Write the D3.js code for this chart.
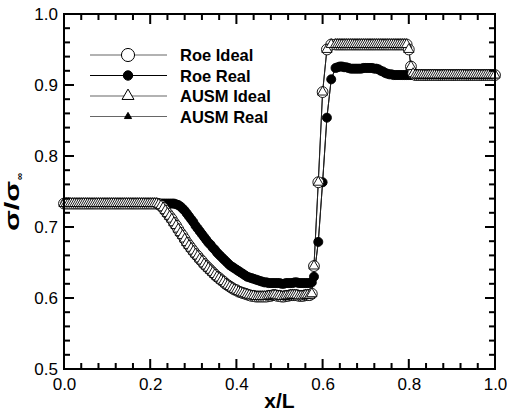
<!DOCTYPE html>
<html>
<head>
<meta charset="utf-8">
<script src="https://cdn.jsdelivr.net/npm/d3@7"></script>
<style>
  body { margin: 0; background: #fff; }
  svg { display: block; font-family: "Liberation Sans", Arial, sans-serif; }
  .axis path, .axis line { stroke: #000; }
  .axis text { font-size: 17px; fill: #000; }
</style>
</head>
<body>
<div id="chart-area"></div>
<script>
// x/L positions of the grid points (coarser through the shock)
const xs = [
  0.000, 0.005, 0.010, 0.015, 0.020, 0.025, 0.030, 0.035, 0.040, 0.045,
  0.050, 0.055, 0.060, 0.065, 0.070, 0.075, 0.080, 0.085, 0.090, 0.095,
  0.100, 0.105, 0.110, 0.115, 0.120, 0.125, 0.130, 0.135, 0.140, 0.145,
  0.150, 0.155, 0.160, 0.165, 0.170, 0.175, 0.180, 0.185, 0.190, 0.195,
  0.200, 0.205, 0.210, 0.215, 0.220, 0.225, 0.230, 0.235, 0.240, 0.245,
  0.250, 0.255, 0.260, 0.265, 0.270, 0.275, 0.280, 0.285, 0.290, 0.295,
  0.300, 0.305, 0.310, 0.315, 0.320, 0.325, 0.330, 0.335, 0.340, 0.345,
  0.350, 0.355, 0.360, 0.365, 0.370, 0.375, 0.380, 0.385, 0.390, 0.395,
  0.400, 0.405, 0.410, 0.415, 0.420, 0.425, 0.430, 0.435, 0.440, 0.445,
  0.450, 0.455, 0.460, 0.465, 0.470, 0.475, 0.480, 0.485, 0.490, 0.495,
  0.500, 0.505, 0.510, 0.515, 0.520, 0.525, 0.530, 0.535, 0.540, 0.545,
  0.550, 0.555, 0.560, 0.565, 0.570, 0.575,
  0.58, 0.59, 0.60, 0.61, 0.62, 0.63,
  0.635, 0.640, 0.645, 0.650, 0.655, 0.660, 0.665, 0.670, 0.675, 0.680,
  0.685, 0.690, 0.695, 0.700, 0.705, 0.710, 0.715, 0.720, 0.725, 0.730,
  0.735, 0.740, 0.745, 0.750, 0.755, 0.760, 0.765, 0.770, 0.775, 0.780,
  0.785, 0.790, 0.795, 0.800, 0.805, 0.810, 0.815, 0.820, 0.825, 0.830,
  0.835, 0.840, 0.845, 0.850, 0.855, 0.860, 0.865, 0.870, 0.875, 0.880,
  0.885, 0.890, 0.895, 0.900, 0.905, 0.910, 0.915, 0.920, 0.925, 0.930,
  0.935, 0.940, 0.945, 0.950, 0.955, 0.960, 0.965, 0.970, 0.975, 0.980,
  0.985, 0.990, 0.995, 1.000
];

const roeIdeal = [
  0.733, 0.733, 0.733, 0.733, 0.733, 0.733, 0.733, 0.733, 0.733, 0.733,
  0.733, 0.733, 0.733, 0.733, 0.733, 0.733, 0.733, 0.733, 0.733, 0.733,
  0.733, 0.733, 0.733, 0.733, 0.733, 0.733, 0.733, 0.733, 0.733, 0.733,
  0.733, 0.733, 0.733, 0.733, 0.733, 0.733, 0.733, 0.733, 0.733, 0.733,
  0.733, 0.733, 0.733, 0.733, 0.732, 0.730, 0.727, 0.723, 0.719, 0.715,
  0.711, 0.706, 0.702, 0.697, 0.692, 0.688, 0.683, 0.678, 0.674, 0.670,
  0.666, 0.662, 0.659, 0.655, 0.652, 0.648, 0.645, 0.642, 0.639, 0.636,
  0.633, 0.630, 0.628, 0.625, 0.623, 0.620, 0.618, 0.616, 0.614, 0.612,
  0.611, 0.609, 0.608, 0.607, 0.606, 0.605, 0.604, 0.603, 0.603, 0.602,
  0.602, 0.602, 0.602, 0.602, 0.602, 0.603, 0.603, 0.604, 0.604, 0.603,
  0.603, 0.602, 0.602, 0.603, 0.603, 0.604, 0.604, 0.604, 0.604, 0.603,
  0.603, 0.603, 0.604, 0.604, 0.604, 0.606,
  0.645, 0.763, 0.890, 0.950, 0.957, 0.957,
  0.957, 0.957, 0.957, 0.957, 0.957, 0.957, 0.957, 0.957, 0.957, 0.957,
  0.957, 0.957, 0.957, 0.957, 0.957, 0.957, 0.957, 0.957, 0.957, 0.957,
  0.957, 0.957, 0.957, 0.957, 0.957, 0.957, 0.957, 0.957, 0.957, 0.957,
  0.957, 0.957, 0.957, 0.950, 0.926, 0.916, 0.914, 0.914, 0.914, 0.914,
  0.914, 0.914, 0.914, 0.914, 0.914, 0.914, 0.914, 0.914, 0.914, 0.914,
  0.914, 0.914, 0.914, 0.914, 0.914, 0.914, 0.914, 0.914, 0.914, 0.914,
  0.914, 0.914, 0.914, 0.914, 0.914, 0.914, 0.914, 0.914, 0.914, 0.914,
  0.914, 0.914, 0.914, 0.914
];

const roeReal = [
  0.733, 0.733, 0.733, 0.733, 0.733, 0.733, 0.733, 0.733, 0.733, 0.733,
  0.733, 0.733, 0.733, 0.733, 0.733, 0.733, 0.733, 0.733, 0.733, 0.733,
  0.733, 0.733, 0.733, 0.733, 0.733, 0.733, 0.733, 0.733, 0.733, 0.733,
  0.733, 0.733, 0.733, 0.733, 0.733, 0.733, 0.733, 0.733, 0.733, 0.733,
  0.733, 0.733, 0.733, 0.733, 0.733, 0.733, 0.733, 0.733, 0.733, 0.733,
  0.733, 0.733, 0.732, 0.731, 0.729, 0.726, 0.723, 0.719, 0.715, 0.711,
  0.707, 0.702, 0.698, 0.694, 0.690, 0.686, 0.682, 0.678, 0.675, 0.671,
  0.668, 0.664, 0.661, 0.658, 0.655, 0.652, 0.649, 0.646, 0.644, 0.642,
  0.640, 0.638, 0.636, 0.634, 0.632, 0.630, 0.629, 0.628, 0.627, 0.626,
  0.625, 0.624, 0.623, 0.622, 0.622, 0.621, 0.621, 0.621, 0.621, 0.621,
  0.621, 0.620, 0.620, 0.621, 0.621, 0.621, 0.621, 0.622, 0.622, 0.621,
  0.621, 0.621, 0.621, 0.621, 0.621, 0.622,
  0.630, 0.679, 0.763, 0.854, 0.908, 0.924,
  0.925, 0.926, 0.926, 0.925, 0.925, 0.924, 0.923, 0.923, 0.923, 0.923,
  0.923, 0.923, 0.924, 0.924, 0.924, 0.924, 0.924, 0.923, 0.923, 0.922,
  0.920, 0.919, 0.917, 0.916, 0.915, 0.915, 0.914, 0.914, 0.914, 0.914,
  0.914, 0.914, 0.914, 0.914, 0.914, 0.914, 0.914, 0.914, 0.914, 0.914,
  0.914, 0.914, 0.914, 0.914, 0.914, 0.914, 0.914, 0.914, 0.914, 0.914,
  0.914, 0.914, 0.914, 0.914, 0.914, 0.914, 0.914, 0.914, 0.914, 0.914,
  0.914, 0.914, 0.914, 0.914, 0.914, 0.914, 0.914, 0.914, 0.914, 0.914,
  0.914, 0.914, 0.914, 0.914
];

// AUSM results sit on top of the Roe results in the picture
const ausmIdeal = [
  0.733, 0.733, 0.733, 0.733, 0.733, 0.733, 0.733, 0.733, 0.733, 0.733,
  0.733, 0.733, 0.733, 0.733, 0.733, 0.733, 0.733, 0.733, 0.733, 0.733,
  0.733, 0.733, 0.733, 0.733, 0.733, 0.733, 0.733, 0.733, 0.733, 0.733,
  0.733, 0.733, 0.733, 0.733, 0.733, 0.733, 0.733, 0.733, 0.733, 0.733,
  0.733, 0.733, 0.733, 0.733, 0.732, 0.730, 0.727, 0.723, 0.719, 0.715,
  0.711, 0.706, 0.702, 0.697, 0.692, 0.688, 0.683, 0.678, 0.674, 0.670,
  0.666, 0.662, 0.659, 0.655, 0.652, 0.648, 0.645, 0.642, 0.639, 0.636,
  0.633, 0.630, 0.628, 0.625, 0.623, 0.620, 0.618, 0.616, 0.614, 0.612,
  0.611, 0.609, 0.608, 0.607, 0.606, 0.605, 0.604, 0.603, 0.603, 0.602,
  0.602, 0.602, 0.602, 0.602, 0.602, 0.603, 0.603, 0.604, 0.604, 0.603,
  0.603, 0.602, 0.602, 0.603, 0.603, 0.604, 0.604, 0.604, 0.604, 0.603,
  0.603, 0.603, 0.604, 0.604, 0.604, 0.606,
  0.645, 0.763, 0.890, 0.950, 0.957, 0.957,
  0.957, 0.957, 0.957, 0.957, 0.957, 0.957, 0.957, 0.957, 0.957, 0.957,
  0.957, 0.957, 0.957, 0.957, 0.957, 0.957, 0.957, 0.957, 0.957, 0.957,
  0.957, 0.957, 0.957, 0.957, 0.957, 0.957, 0.957, 0.957, 0.957, 0.957,
  0.957, 0.957, 0.957, 0.950, 0.926, 0.916, 0.914, 0.914, 0.914, 0.914,
  0.914, 0.914, 0.914, 0.914, 0.914, 0.914, 0.914, 0.914, 0.914, 0.914,
  0.914, 0.914, 0.914, 0.914, 0.914, 0.914, 0.914, 0.914, 0.914, 0.914,
  0.914, 0.914, 0.914, 0.914, 0.914, 0.914, 0.914, 0.914, 0.914, 0.914,
  0.914, 0.914, 0.914, 0.914
];

const ausmReal = [
  0.733, 0.733, 0.733, 0.733, 0.733, 0.733, 0.733, 0.733, 0.733, 0.733,
  0.733, 0.733, 0.733, 0.733, 0.733, 0.733, 0.733, 0.733, 0.733, 0.733,
  0.733, 0.733, 0.733, 0.733, 0.733, 0.733, 0.733, 0.733, 0.733, 0.733,
  0.733, 0.733, 0.733, 0.733, 0.733, 0.733, 0.733, 0.733, 0.733, 0.733,
  0.733, 0.733, 0.733, 0.733, 0.733, 0.733, 0.733, 0.733, 0.733, 0.733,
  0.733, 0.733, 0.732, 0.731, 0.729, 0.726, 0.723, 0.719, 0.715, 0.711,
  0.707, 0.702, 0.698, 0.694, 0.690, 0.686, 0.682, 0.678, 0.675, 0.671,
  0.668, 0.664, 0.661, 0.658, 0.655, 0.652, 0.649, 0.646, 0.644, 0.642,
  0.640, 0.638, 0.636, 0.634, 0.632, 0.630, 0.629, 0.628, 0.627, 0.626,
  0.625, 0.624, 0.623, 0.622, 0.622, 0.621, 0.621, 0.621, 0.621, 0.621,
  0.621, 0.620, 0.620, 0.621, 0.621, 0.621, 0.621, 0.622, 0.622, 0.621,
  0.621, 0.621, 0.621, 0.621, 0.621, 0.622,
  0.630, 0.679, 0.763, 0.854, 0.908, 0.924,
  0.925, 0.926, 0.926, 0.925, 0.925, 0.924, 0.923, 0.923, 0.923, 0.923,
  0.923, 0.923, 0.924, 0.924, 0.924, 0.924, 0.924, 0.923, 0.923, 0.922,
  0.920, 0.919, 0.917, 0.916, 0.915, 0.915, 0.914, 0.914, 0.914, 0.914,
  0.914, 0.914, 0.914, 0.914, 0.914, 0.914, 0.914, 0.914, 0.914, 0.914,
  0.914, 0.914, 0.914, 0.914, 0.914, 0.914, 0.914, 0.914, 0.914, 0.914,
  0.914, 0.914, 0.914, 0.914, 0.914, 0.914, 0.914, 0.914, 0.914, 0.914,
  0.914, 0.914, 0.914, 0.914, 0.914, 0.914, 0.914, 0.914, 0.914, 0.914,
  0.914, 0.914, 0.914, 0.914
];

const seriesNames = ['Roe Ideal', 'Roe Real', 'AUSM Ideal', 'AUSM Real'];
const xTicks = [0, 0.2, 0.4, 0.6, 0.8, 1.0];
const yTicks = [0.5, 0.6, 0.7, 0.8, 0.9, 1.0];
const xMinorTicks = [0.04, 0.08, 0.12, 0.16, 0.24, 0.28, 0.32, 0.36, 0.44, 0.48,
  0.52, 0.56, 0.64, 0.68, 0.72, 0.76, 0.84, 0.88, 0.92, 0.96];
const yMinorTicks = [0.52, 0.54, 0.56, 0.58, 0.62, 0.64, 0.66, 0.68, 0.72, 0.74,
  0.76, 0.78, 0.82, 0.84, 0.86, 0.88, 0.92, 0.94, 0.96, 0.98];

const W = 507, H = 414;
const margin = { left: 64, right: 12, top: 14, bottom: 45 };
const width = W - margin.left - margin.right;
const height = H - margin.top - margin.bottom;

// marker + line style per series
const styles = {
  'Roe Ideal':  { shape: d3.symbolCircle,   size: 92, fill: '#fff', line: '#222', legSize: 135 },
  'Roe Real':   { shape: d3.symbolCircle,   size: 64, fill: '#000', line: '#000', legSize: 70 },
  'AUSM Ideal': { shape: d3.symbolTriangle, size: 45, fill: '#fff', line: '#222', legSize: 62 },
  'AUSM Real':  { shape: d3.symbolTriangle, size: 22, fill: '#000', line: '#222', legSize: 22 },
};

main();

function main() {
  const svg = d3.select('#chart-area').append('svg')
    .attr('width', W)
    .attr('height', H);
  const g = svg.append('g')
    .attr('transform', `translate(${margin.left}, ${margin.top})`);

  const x = d3.scaleLinear().domain([0, 1]).range([0, width]);
  const y = d3.scaleLinear().domain([0.5, 1]).range([height, 0]);

  const data = {
    'Roe Ideal': roeIdeal,
    'Roe Real': roeReal,
    'AUSM Ideal': ausmIdeal,
    'AUSM Real': ausmReal,
  };

  // real ones first, ideal ones on top
  const order = ['Roe Real', 'AUSM Real', 'Roe Ideal', 'AUSM Ideal'];
  const line = d3.line().x(d => x(d[0])).y(d => y(d[1]));

  order.forEach(name => {
    const pts = xs.map((v, i) => [v, data[name][i]]);
    g.append('path')
      .datum(pts)
      .attr('fill', 'none')
      .attr('stroke', styles[name].line)
      .attr('stroke-width', 1)
      .attr('d', line);
  });
  order.forEach(name => {
    const pts = xs.map((v, i) => [v, data[name][i]]);
    const st = styles[name];
    g.append('g')
      .selectAll('path')
      .data(pts)
      .enter()
      .append('path')
      .attr('transform', d => `translate(${x(d[0])}, ${y(d[1])})`)
      .attr('d', d3.symbol().type(st.shape).size(st.size))
      .attr('fill', st.fill)
      .attr('stroke', '#000')
      .attr('stroke-width', 0.9);
  });

  drawAxes(g, x, y);
  drawLegend(svg);

  // axis titles
  svg.append('text')
    .attr('x', margin.left + width / 2)
    .attr('y', 408)
    .attr('text-anchor', 'middle')
    .attr('font-size', 21)
    .attr('font-weight', 'bold')
    .text('x/L');

  const yl = svg.append('text')
    .attr('transform', 'translate(19, 231) rotate(-90)')
    .attr('font-weight', 'bold');
  yl.append('tspan')
    .attr('font-size', 21)
    .attr('textLength', 50)
    .attr('lengthAdjust', 'spacingAndGlyphs')
    .text('σ/σ');
  yl.append('tspan').attr('font-size', 10).attr('dy', 4).attr('dx', 1).text('∞');
}

function drawAxes(g, x, y) {
  const lblFmt = d3.format('.1f');

  g.append('g').attr('class', 'axis')
    .attr('transform', `translate(0, ${height})`)
    .call(d3.axisBottom(x).tickValues(xTicks).tickSize(0).tickPadding(9).tickFormat(lblFmt))
    .call(a => a.select('.domain').remove());
  g.append('g').attr('class', 'axis')
    .call(d3.axisLeft(y).tickValues(yTicks).tickSize(0).tickPadding(6).tickFormat(lblFmt))
    .call(a => a.select('.domain').remove());

  // inward ticks on all four sides, as filled rects
  const xTickSet = xTicks.map(v => [v, 10]).concat(xMinorTicks.map(v => [v, 6]));
  const yTickSet = yTicks.map(v => [v, 10]).concat(yMinorTicks.map(v => [v, 6]));
  const tw = 2;

  g.selectAll(null).data(xTickSet).enter().append('rect')
    .attr('x', d => x(d[0]) - tw / 2).attr('width', tw)
    .attr('y', d => height - d[1]).attr('height', d => d[1])
    .attr('fill', '#000');
  g.selectAll(null).data(xTickSet).enter().append('rect')
    .attr('x', d => x(d[0]) - tw / 2).attr('width', tw)
    .attr('y', 0).attr('height', d => d[1])
    .attr('fill', '#000');
  g.selectAll(null).data(yTickSet).enter().append('rect')
    .attr('y', d => y(d[0]) - tw / 2).attr('height', tw)
    .attr('x', 0).attr('width', d => d[1])
    .attr('fill', '#000');
  g.selectAll(null).data(yTickSet).enter().append('rect')
    .attr('y', d => y(d[0]) - tw / 2).attr('height', tw)
    .attr('x', d => width - d[1]).attr('width', d => d[1])
    .attr('fill', '#000');

  // frame
  g.append('rect')
    .attr('width', width)
    .attr('height', height)
    .attr('fill', 'none')
    .attr('stroke', '#000')
    .attr('stroke-width', 2);
}

function drawLegend(svg) {
  const rowY = d3.scalePoint().domain(seriesNames).range([55, 116.5]);
  const leg = svg.append('g');
  seriesNames.forEach(name => {
    const st = styles[name];
    const yy = rowY(name);
    leg.append('line')
      .attr('x1', 90).attr('x2', 167)
      .attr('y1', yy).attr('y2', yy)
      .attr('stroke', name === 'Roe Real' ? '#000' : '#666')
      .attr('stroke-width', 1.2);
    leg.append('path')
      .attr('transform', `translate(128, ${yy})`)
      .attr('d', d3.symbol().type(st.shape).size(st.legSize))
      .attr('fill', st.fill)
      .attr('stroke', '#000')
      .attr('stroke-width', 1);
    leg.append('text')
      .attr('x', 180)
      .attr('y', yy + 6)
      .attr('font-size', 16.5)
      .attr('font-weight', 'bold')
      .text(name);
  });
}
</script>
</body>
</html>
